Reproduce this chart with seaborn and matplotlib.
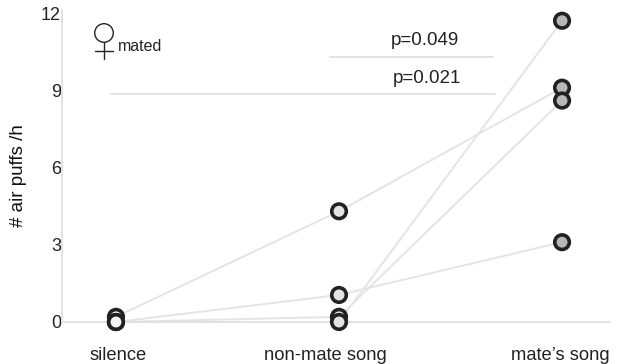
import matplotlib
matplotlib.use("Agg")
import matplotlib.pyplot as plt
from matplotlib.lines import Line2D
from matplotlib.patches import Ellipse
from matplotlib.transforms import ScaledTranslation
import pandas as pd
import seaborn as sns

sns.set_theme(style="white")
plt.rcParams["font.family"] = ["Liberation Sans", "DejaVu Sans"]

categories = ["silence", "non-mate song", "mate\u2019s song"]
fly_a = [0.2, 4.3, 9.1]
fly_b = [0.0, 1.05, 3.1]
fly_c = [0.0, 0.2, 8.6]
fly_d = [0.0, 0.0, 11.7]
flies = {"a": fly_a, "b": fly_b, "c": fly_c, "d": fly_d}
y_ticks = [0, 3, 6, 9, 12]
face_colors = ["#f4f4f4", "#e4e4e4", "#b8b8b8"]
sig_labels = ["p=0.049", "p=0.021"]

rows = [
    {"fly": f, "condition": categories[i], "pos": i, "air_puffs": v}
    for f, vals in flies.items()
    for i, v in enumerate(vals)
]
df = pd.DataFrame(rows)

W, H = 617, 364
fig = plt.figure(figsize=(W / 100, H / 100), dpi=100)
L, R, T, B = 62, 610, 10, 322
ax = fig.add_axes([L / W, 1 - B / H, (R - L) / W, (B - T) / H])

sns.lineplot(data=df, x="pos", y="air_puffs", units="fly", estimator=None,
             color="#e4e4e4", linewidth=1.4, ax=ax, zorder=1, clip_on=False)
sns.scatterplot(data=df, x="pos", y="air_puffs", hue="condition", hue_order=categories,
                palette=face_colors, s=110, edgecolor="#222222", linewidth=2.6,
                legend=False, ax=ax, zorder=3, clip_on=False)

ax.set_xlim(-0.242, 2.215)
ax.set_ylim(0, 12.117)
ax.set_xticks([0, 1, 2])
ax.set_xticklabels(categories, fontsize=13.2, color="#222222")
ax.set_yticks(y_ticks)
ax.set_yticklabels([str(t) for t in y_ticks], fontsize=13, color="#222222")
ax.tick_params(axis="both", length=0)
ax.tick_params(axis="x", pad=18)
ax.tick_params(axis="y", pad=0.7)
ax.set_xlabel("")
ax.set_ylabel("# air puffs /h", fontsize=13.5, color="#111111", labelpad=10, y=0.47)

# the reference's category labels are not exactly centred under their points
x_shift_px = [2, -14, -2]
for label, dx in zip(ax.get_xticklabels(), x_shift_px):
    label.set_transform(label.get_transform() + ScaledTranslation(dx / 100, 0, fig.dpi_scale_trans))

sns.despine(ax=ax)
for side in ("left", "bottom"):
    ax.spines[side].set_color("#e2e2e2")
    ax.spines[side].set_linewidth(1.4)

ax.plot([0.96, 1.69], [10.31, 10.31], color="#e2e2e2", lw=1.4)
ax.plot([-0.021, 1.7], [8.84, 8.84], color="#e2e2e2", lw=1.4)
ax.text(1.385, 10.95, sig_labels[0], fontsize=13.5, ha="center", va="center", color="#222222")
ax.text(1.395, 9.46, sig_labels[1], fontsize=13.5, ha="center", va="center", color="#222222")

# female symbol, thin outline as in the reference
sym = "#222222"
fig.add_artist(Ellipse((104 / W, 1 - 33 / H), 18.6 / W, 18.6 / H, fill=False, ec=sym, lw=1.0,
                       transform=fig.transFigure))
fig.add_artist(Line2D([104 / W, 104 / W], [1 - 42.3 / H, 1 - 59 / H], color=sym, lw=1.0,
                      transform=fig.transFigure))
fig.add_artist(Line2D([95 / W, 113 / W], [1 - 51 / H, 1 - 51 / H], color=sym, lw=1.0,
                      transform=fig.transFigure))
ax.text(0.107, 10.7, "mated", fontsize=11.5, ha="center", va="center", color="#222222")

fig.savefig("out.png", dpi=100)
